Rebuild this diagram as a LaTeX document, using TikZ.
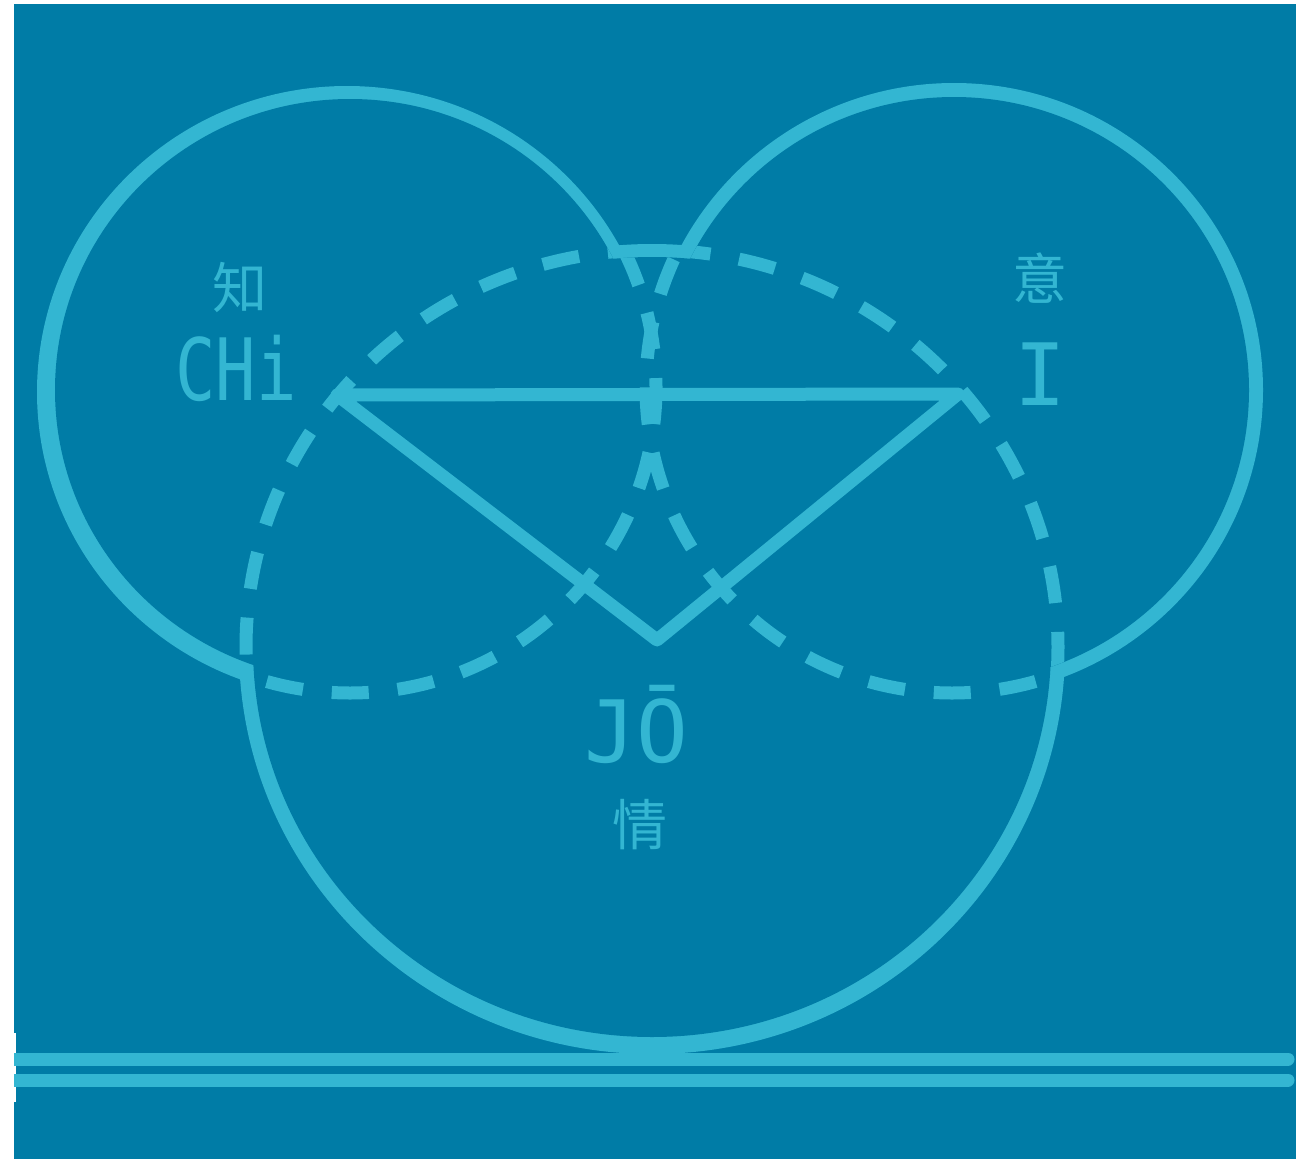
\documentclass[tikz,border=0pt]{standalone}
\usepackage{fontspec}
\newfontfamily\cjk{Noto Sans CJK SC}
\newfontfamily\hand{DejaVu Sans Mono}
\definecolor{bg}{RGB}{0,124,166}
\definecolor{ln}{RGB}{51,182,210}
\begin{document}
\begin{tikzpicture}[x=1pt,y=-1pt,
  ring/.style={draw=ln, line width=28pt},
  hole/.style={fill=bg},
  dashring/.style={draw=ln, line width=13pt, dash pattern=on 37pt off 29pt},
  edge/.style={draw=ln, line width=13pt, line join=round},
  cjklabel/.style={text=ln, font=\cjk\fontsize{55}{60}\selectfont, inner sep=0pt},
  latinlabel/.style={text=ln, font=\hand\fontsize{86}{90}\selectfont, inner sep=0pt, anchor=base},
  bar/.style={draw=ln, line width=13pt, line cap=round}]
\useasboundingbox (0,0) rectangle (1296,1159);
\fill[white] (0,0) rectangle (1296,1159);
\fill[bg] (14,4) rectangle (1296,1159);
\fill[white] (14,1033) rectangle (15.5,1102);
% solid outline of the union of the three circles
\draw[ring] (347,392) ellipse [x radius=296, y radius=292];
\draw[ring] (954,390) ellipse [x radius=295, y radius=293];
\draw[ring] (652,649) ellipse [x radius=399, y radius=391];
\fill[hole] (350,390) ellipse [x radius=295, y radius=291];
\fill[hole] (954,390) ellipse [x radius=295, y radius=293];
\fill[hole] (652,647) ellipse [x radius=399, y radius=390];
% dashed hidden arcs
\begin{scope}
  \clip (954,390) ellipse [x radius=295, y radius=293] (652,647) ellipse [x radius=399, y radius=390];
  \draw[dashring] (350,387) circle [radius=306];
\end{scope}
\begin{scope}
  \clip (350,390) ellipse [x radius=295, y radius=291] (652,647) ellipse [x radius=399, y radius=390];
  \draw[dashring] (952,387) circle [radius=306];
\end{scope}
\begin{scope}
  \clip (350,390) ellipse [x radius=295, y radius=291] (954,390) ellipse [x radius=295, y radius=293];
  \draw[dashring] (652,647) ellipse [x radius=406, y radius=397];
\end{scope}
% triangle
\coordinate (chi) at (337,395);
\coordinate (yi) at (958,394);
\coordinate (jo) at (657,640);
\draw[edge] (chi) -- (yi) -- (jo) -- cycle;
% labels
\node[cjklabel] (zhi) at (240,287) {知};
\node[cjklabel] (yic) at (1040,278) {意};
\node[cjklabel] (qing) at (640,825) {情};
\node[latinlabel] (chitxt) at (236,400) {\scalebox{0.78}[1]{CHi}};
\node[latinlabel] (itxt) at (1040,405) {I};
\node[latinlabel] (jotxt) at (636,762) {JŌ};
% bottom double line
\begin{scope}
  \clip (14,4) rectangle (1296,1159);
  \coordinate (l1a) at (0,1059);
  \coordinate (l1b) at (1288,1059);
  \coordinate (l2a) at (0,1080);
  \coordinate (l2b) at (1288,1080);
  \draw[bar] (l1a) -- (l1b);
  \draw[bar] (l2a) -- (l2b);
\end{scope}
\end{tikzpicture}
\end{document}
